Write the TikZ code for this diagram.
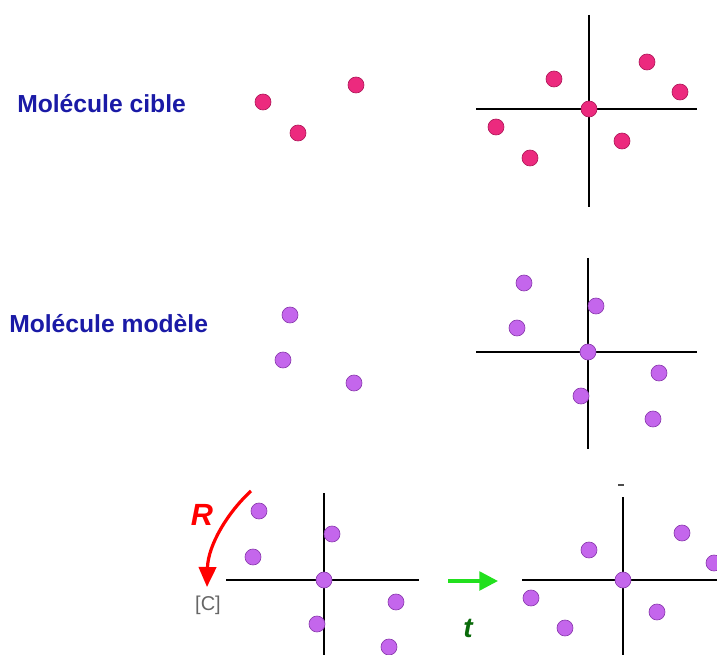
\documentclass[tikz,border=0pt]{standalone}
\usepackage{fontspec}
\setmainfont{Liberation Sans}
\usetikzlibrary{arrows.meta}
\definecolor{lblue}{HTML}{1A1AA6}
\definecolor{pinkfill}{HTML}{EC2A7E}
\definecolor{pinkline}{HTML}{B0185A}
\definecolor{purfill}{HTML}{C466EC}
\definecolor{purline}{HTML}{8A3AAE}
\definecolor{tgreen}{HTML}{0A6A0A}
\definecolor{agreen}{HTML}{22E01E}
\tikzset{
  label/.style={font=\bfseries\fontsize{18.5}{22}\selectfont, text=lblue, inner sep=0pt},
  pdot/.style={circle, fill=pinkfill, draw=pinkline, line width=0.5pt, minimum size=12pt, inner sep=0pt},
  vdot/.style={circle, fill=purfill, draw=purline, line width=0.5pt, minimum size=12pt, inner sep=0pt},
  axis/.style={line width=2.2pt, black},
}
\begin{document}
\begin{tikzpicture}[x=0.75pt,y=-0.75pt]
\useasboundingbox (0,0) rectangle (717,655);
% labels
\node[label, anchor=west] (lab1) at (17,104) {Molécule cible};
\node[label, anchor=west] (lab2) at (9,324) {Molécule modèle};
% ---------- row 1 ----------
\node[pdot] (a1) at (263,102) {};
\node[pdot] (a2) at (356,85) {};
\node[pdot] (a3) at (298,133) {};
\coordinate (x1t) at (589,15);
\coordinate (x1b) at (589,207);
\coordinate (x1l) at (476,109);
\coordinate (x1r) at (697,109);
\draw[axis] (x1t) -- (x1b);
\draw[axis] (x1l) -- (x1r);
\node[pdot] (b0) at (589,109) {};
\node[pdot] (b1) at (554,79) {};
\node[pdot] (b2) at (647,62) {};
\node[pdot] (b3) at (680,92) {};
\node[pdot] (b4) at (496,127) {};
\node[pdot] (b5) at (530,158) {};
\node[pdot] (b6) at (622,141) {};
% ---------- row 2 ----------
\node[vdot] (c1) at (290,315) {};
\node[vdot] (c2) at (283,360) {};
\node[vdot] (c3) at (354,383) {};
\coordinate (x2t) at (588,258);
\coordinate (x2b) at (588,449);
\coordinate (x2l) at (476,352);
\coordinate (x2r) at (697,352);
\draw[axis] (x2t) -- (x2b);
\draw[axis] (x2l) -- (x2r);
\node[vdot] (d0) at (588,352) {};
\node[vdot] (d1) at (524,283) {};
\node[vdot] (d2) at (596,306) {};
\node[vdot] (d3) at (517,328) {};
\node[vdot] (d4) at (659,373) {};
\node[vdot] (d5) at (581,396) {};
\node[vdot] (d6) at (653,419) {};
% ---------- row 3 left ----------
\coordinate (x3t) at (324,493);
\coordinate (x3b) at (324,656);
\coordinate (x3l) at (226,580);
\coordinate (x3r) at (419,580);
\draw[axis] (x3t) -- (x3b);
\draw[axis] (x3l) -- (x3r);
\node[vdot] (e0) at (324,580) {};
\node[vdot] (e1) at (259,511) {};
\node[vdot] (e2) at (332,534) {};
\node[vdot] (e3) at (253,557) {};
\node[vdot] (e4) at (396,602) {};
\node[vdot] (e5) at (317,624) {};
\node[vdot] (e6) at (389,647) {};
% rotation arrow
\coordinate (r1) at (251,491);
\coordinate (r2) at (207,587);
\draw[red, line width=2.4pt, -{Triangle[length=15pt,width=13pt]}]
  (r1) .. controls (228,512) and (208,545) .. (r2);
\node[text=red, font=\bfseries\itshape\fontsize{23}{25}\selectfont, inner sep=0pt] (R) at (202,515) {R};
\node[text=black!60, font=\fontsize{15}{18}\selectfont, inner sep=0pt] (C) at (208,605) {[C]};
% translation arrow
\coordinate (g1) at (448,581);
\coordinate (g2) at (498,581);
\draw[agreen, line width=2.6pt, -{Triangle[length=14pt,width=14pt]}] (g1) -- (g2);
\node[text=tgreen, font=\bfseries\itshape\fontsize{21}{23}\selectfont, inner sep=0pt] (t) at (468,628) {t};
% ---------- row 3 right ----------
\coordinate (m1) at (618,485);
\coordinate (m2) at (624,485);
\draw[black!70, line width=0.8pt] (m1) -- (m2);
\coordinate (x4t) at (623,497);
\coordinate (x4b) at (623,656);
\coordinate (x4l) at (522,580);
\coordinate (x4r) at (718,580);
\draw[axis] (x4t) -- (x4b);
\draw[axis] (x4l) -- (x4r);
\node[vdot] (f0) at (623,580) {};
\node[vdot] (f1) at (589,550) {};
\node[vdot] (f2) at (682,533) {};
\node[vdot] (f3) at (714,563) {};
\node[vdot] (f4) at (531,598) {};
\node[vdot] (f5) at (657,612) {};
\node[vdot] (f6) at (565,628) {};
\end{tikzpicture}
\end{document}
